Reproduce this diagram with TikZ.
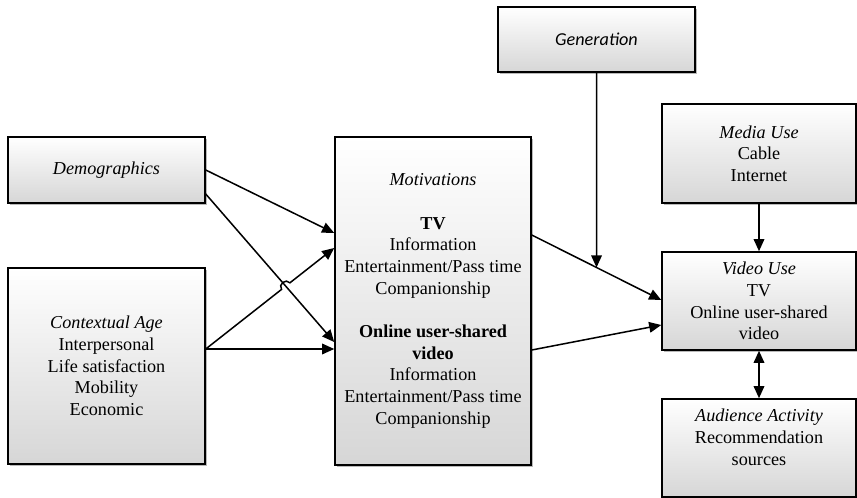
\documentclass[tikz,border=0pt]{standalone}
\usepackage{fontspec}
\setmainfont{Liberation Serif}
\newfontfamily\calibrifont{Carlito}
\usetikzlibrary{arrows.meta,calc,shadows}

\tikzset{
  framebox/.style={draw,rectangle,line width=1pt,inner sep=0pt,align=center,
    top color=white,bottom color=gray!32,
    drop shadow={shadow xshift=1.6pt,shadow yshift=-1.6pt,fill=gray!55,opacity=1},
    font=\fontsize{12}{14.3}\selectfont},
  linkarrow/.style={line width=1pt,-{Triangle[length=8pt,width=7pt]}},
  twoarrow/.style={line width=1pt,{Triangle[length=8pt,width=7pt]}-{Triangle[length=8pt,width=7pt]}}
}

\begin{document}
\begin{tikzpicture}[x=0.66pt,y=-0.66pt]
\useasboundingbox (0,0) rectangle (857,498);

% left column
\node[framebox,minimum width=130pt,minimum height=43.6pt] (demo) at (106.5,170)
  {\textit{Demographics}};
\node[framebox,minimum width=130pt,minimum height=129.4pt] (ctx) at (106.5,366)
  {\textit{Contextual Age}\\ Interpersonal\\ Life satisfaction\\ Mobility\\ Economic};

% middle
\node[framebox,minimum width=129.4pt,minimum height=216.5pt] (mot) at (433,301)
  {\textit{Motivations}\\[14.3pt]
   \textbf{TV}\\ Information\\ Entertainment/Pass time\\ Companionship\\[14.3pt]
   \textbf{Online user-shared}\\ \textbf{video}\\ Information\\ Entertainment/Pass time\\ Companionship};
\node[framebox,minimum width=130pt,minimum height=42.9pt] (gen) at (596.5,39.5)
  {\calibrifont\itshape Generation};

% right column
\node[framebox,minimum width=128pt,minimum height=65.3pt] (media) at (759,153.5)
  {\textit{Media Use}\\ Cable\\ Internet};
\node[framebox,minimum width=128pt,minimum height=64.7pt] (vid) at (759,301)
  {\textit{Video Use}\\ TV\\ Online user-shared\\ video};
\node[framebox,minimum width=128pt,minimum height=64.7pt] (aud) at (759,448)
  {\textit{Audience Activity}\\ Recommendation\\ sources\\ \mbox{}};

% connectors into Motivations
\draw[linkarrow] (demo.east) -- ($(mot.west)+(0,-68)$);
\draw[linkarrow] ($(demo.east)+(0,24)$) -- ($(mot.west)+(0,41)$);
\coordinate (ctxout) at ($(ctx.east)+(0,-17)$);
\coordinate (motin) at ($(mot.west)+(0,-53)$);
\draw[linkarrow] (ctxout) -- ($(mot.west)+(0,48)$);
\draw[linkarrow] (ctxout) -- ($(ctxout)!0.59!(motin)$)
  to[bend left=90,looseness=1.5] ($(ctxout)!0.655!(motin)$) -- (motin);

% connectors into Video Use
\coordinate (motout) at ($(mot.east)+(0,-66)$);
\coordinate (vidin) at ($(vid.west)+(0,-1)$);
\coordinate (genhit) at ($(motout)!0.5!(vidin)$);
\draw[linkarrow] (motout) -- (vidin);
\draw[linkarrow] ($(mot.east)+(0,49)$) -- ($(vid.west)+(0,24)$);
\draw[linkarrow] (gen.south) -- (genhit);
\draw[linkarrow] (media.south) -- (vid.north);
\draw[twoarrow] (vid.south) -- (aud.north);
\end{tikzpicture}
\end{document}
